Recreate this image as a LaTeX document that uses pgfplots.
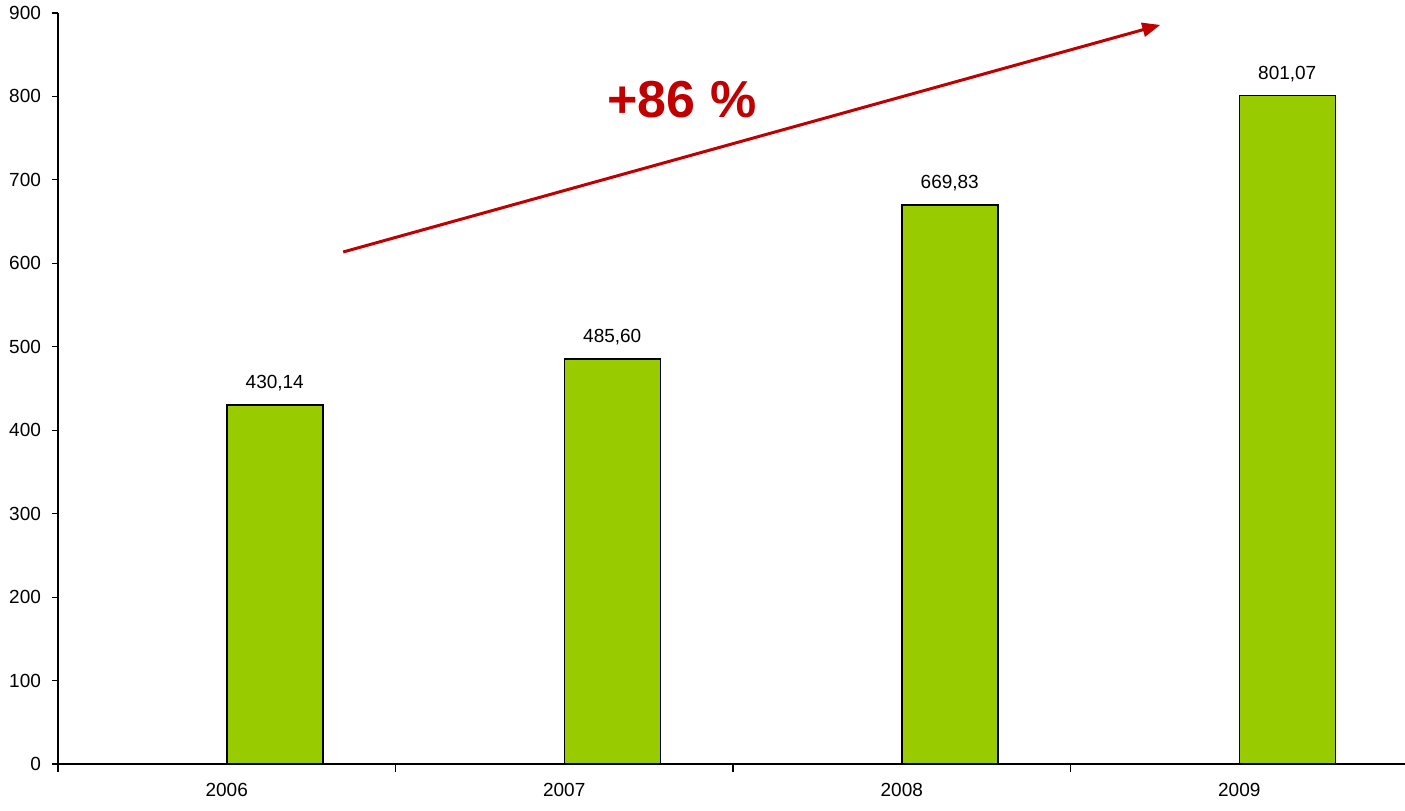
\documentclass[border=0pt]{standalone}
\usepackage{pgfplots}
\pgfplotsset{compat=1.18}
\usepackage{fontspec}
\setmainfont{Liberation Sans}
\usetikzlibrary{arrows.meta}
\definecolor{barGreen}{HTML}{99CC00}
\definecolor{arrRed}{HTML}{C00000}
\begin{document}
\begin{tikzpicture}
\begin{axis}[
  at={(0,0)}, anchor=south west,
  scale only axis, width=675pt, height=375.5pt,
  xmin=-0.5, xmax=3.5, ymin=0, ymax=900,
  axis x line=bottom, axis y line=left,
  axis line style={-, line width=0.7pt},
  ybar, bar width=48pt, bar shift=24pt,
  xtick={0,1,2,3}, xticklabels={2006,2007,2008,2009},
  minor xtick={-0.5,0.5,1.5,2.5,3.5},
  major x tick style={draw=none},
  minor tick length=4pt,
  xtick align=outside, ytick align=outside,
  ytick={0,100,...,900}, major tick length=3pt,
  tick style={black, line width=0.6pt},
  ticklabel style={font=\fontsize{9.5}{11}\selectfont},
  xticklabel style={yshift=-3pt},
  yticklabel style={xshift=-2pt},
  /pgf/number format/assume math mode=true,
  clip=false,
  nodes near coords,
  point meta=explicit symbolic,
  every node near coord/.append style={font=\fontsize{9.5}{11}\selectfont, anchor=south, yshift=3.3pt, black},
]
\addplot[fill=barGreen, draw=black, line width=0.75pt] coordinates {
  (0,430.14) [430,14]
  (1,485.60) [485,60]
  (2,669.83) [669,83]
  (3,801.07) [801,07]
};
\draw[arrRed, line width=1.5pt, -{Triangle[length=9pt,width=7pt]}] (axis cs:0.345,613.6) -- (axis cs:2.766,885.7);
\node[arrRed, font=\fontsize{26}{30}\bfseries\selectfont] at (axis cs:1.349,795.8) {+86 \%};
\end{axis}
\pgfresetboundingbox
\useasboundingbox (-29pt,-23pt) rectangle (673.5pt,382pt);
\end{tikzpicture}
\end{document}
